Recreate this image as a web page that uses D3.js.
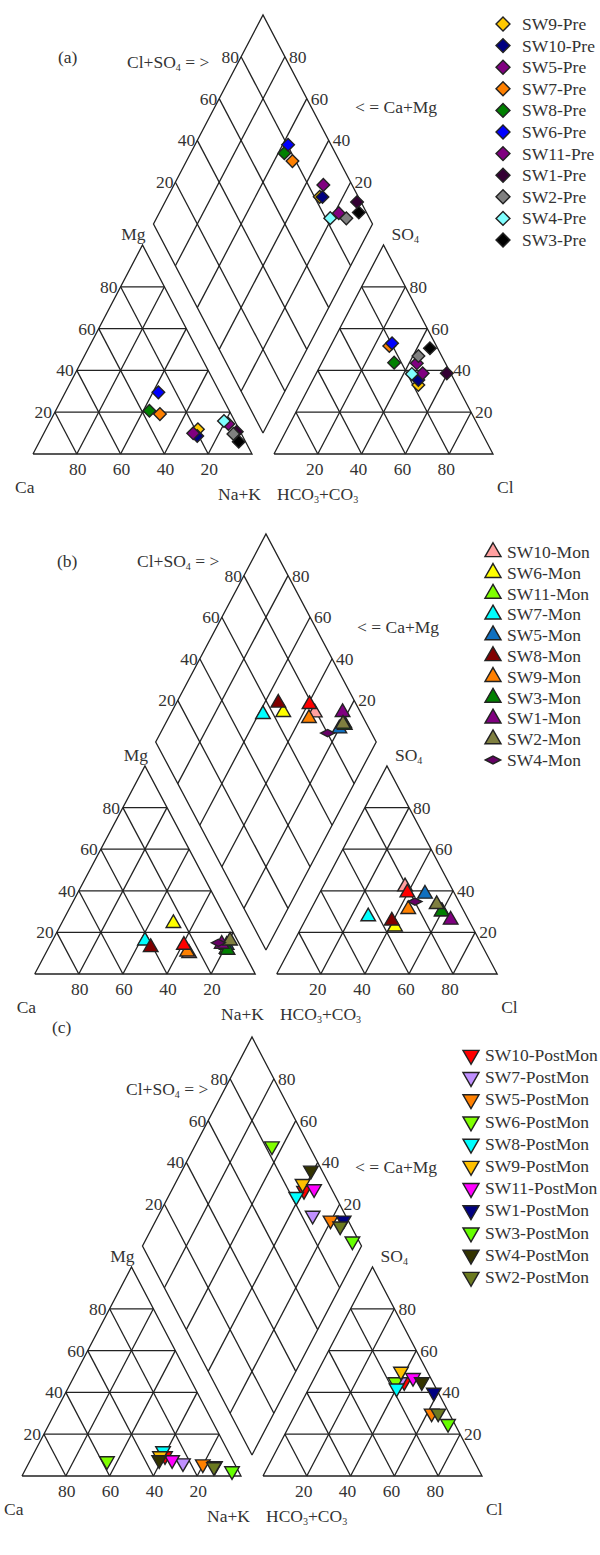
<!DOCTYPE html>
<html>
<head>
<meta charset="utf-8">
<script src="https://cdn.jsdelivr.net/npm/d3@7"></script>
<style>
  body { margin: 0; background: #fff; }
  svg text { font-family: "Liberation Serif", "Times New Roman", serif; fill: #333; font-size: 17.5px; }
</style>
</head>
<body>
<svg id="chart" width="600" height="1555"></svg>
<script>
// ---- data: percent of meq ----
const ticks = [20, 40, 60, 80];

// (a) pre-monsoon
const preNames  = ['SW9-Pre', 'SW10-Pre', 'SW5-Pre', 'SW7-Pre', 'SW8-Pre', 'SW6-Pre', 'SW11-Pre', 'SW1-Pre', 'SW2-Pre', 'SW4-Pre', 'SW3-Pre'];
const preColors = ['#FFC800', '#000080', '#800080', '#FF8000', '#008000', '#0000FF', '#800080', '#330033', '#808080', '#80FFFF', '#000000'];
const preMg  = [11.8, 8.6, 9.9, 19.1, 20.7, 29.5, 14.4, 10.7, 9.6, 15.8, 5.9];
const preNaK = [69.4, 70.7, 68.2, 48.4, 42.8, 42.5, 82.0, 87.7, 86.7, 79.3, 91.0];
const preSO4 = [33.0, 35.4, 43.4, 51.7, 43.7, 53.0, 38.6, 38.6, 46.9, 38.3, 50.6];
const preCl  = [49.4, 48.2, 43.5, 26.8, 33.0, 27.4, 48.6, 59.6, 42.5, 43.8, 45.9];

// (b) monsoon (last one is the red point that has no legend entry)
const monNames  = ['SW10-Mon', 'SW6-Mon', 'SW11-Mon', 'SW7-Mon', 'SW5-Mon', 'SW8-Mon', 'SW9-Mon', 'SW3-Mon', 'SW1-Mon', 'SW2-Mon', 'SW4-Mon', ''];
const monColors = ['#FFA0A0', '#FFFF00', '#80FF00', '#00FFFF', '#1070C0', '#800000', '#FF8000', '#008000', '#800080', '#7F7F40', '#660066', '#FF0000'];
const monMg  = [9.9, 24.4, 12.0, 16.0, 13.9, 12.8, 10.7, 11.5, 14.4, 16.0, 15.0, 13.9];
const monNaK = [65.1, 50.7, 81.0, 42.0, 80.1, 46.2, 63.8, 81.7, 77.6, 80.6, 75.8, 60.7];
const monSO4 = [42.0, 22.7, 30.0, 27.6, 38.5, 25.6, 31.1, 30.0, 26.0, 33.5, 34.8, 39.1];
const monCl  = [37.2, 42.3, 60.0, 27.7, 48.0, 39.4, 44.1, 59.8, 65.9, 55.8, 45.3, 39.7];

// (c) post-monsoon
const postNames  = ['SW10-PostMon', 'SW7-PostMon', 'SW5-PostMon', 'SW6-PostMon', 'SW8-PostMon', 'SW9-PostMon', 'SW11-PostMon', 'SW1-PostMon', 'SW3-PostMon', 'SW4-PostMon', 'SW2-PostMon'];
const postColors = ['#FF0000', '#C090FF', '#FF8000', '#80FF00', '#00FFFF', '#FFC000', '#FF00FF', '#000080', '#66FF00', '#333300', '#6B7A20'];
const postMg  = [9.6, 6.2, 5.7, 7.2, 12.0, 9.6, 7.7, 4.8, 2.4, 7.7, 4.3];
const postNaK = [60.5, 70.4, 79.7, 35.2, 58.4, 58.2, 64.7, 85.7, 94.7, 58.8, 85.5];
const postSO4 = [45.0, 45.0, 30.0, 45.0, 42.0, 50.0, 47.0, 40.0, 25.0, 45.0, 30.0];
const postCl  = [42.0, 40.0, 62.0, 38.0, 40.0, 38.0, 45.0, 58.0, 72.0, 50.0, 65.0];

const svg = d3.select('#chart');

function addSub(text, parts) {
  parts.forEach(([str, sub]) => {
    const t = text.append('tspan').text(str);
    if (sub) t.attr('font-size', 10).attr('dy', 3);
    else if (sub === false) t.attr('dy', -3);
  });
}

function markerPath(shape) {
  if (shape === 'diamond') return d3.symbol().type(d3.symbolSquare).size(80)();
  if (shape === 'flat') return 'M-7,0L0,-3.6L7,0L0,3.6Z';
  return d3.symbol().type(d3.symbolTriangle).size(92)();
}
function markerRot(shape) {
  if (shape === 'diamond') return 45;
  if (shape === 'down') return 180;
  return 0;
}

function drawPanel(cfg, names, colors, mg, nak, so4, cl, shapes) {
  const g = svg.append('g');
  const gp = cfg.g / cfg.s * 100;
  const dp = cfg.dOff / cfg.h * 100;
  const x = d3.scaleLinear().domain([0, 100]).range([cfg.x0, cfg.x0 + cfg.s]);
  const y = d3.scaleLinear().domain([0, 100]).range([cfg.base, cfg.base - cfg.h]);
  const L = (m, n) => [x(n + m / 2), y(m)];
  const R = (s4, c) => [x(100 + gp + c + s4 / 2), y(s4)];
  const D = (b, c) => [x(100 + gp / 2 + (b - c) / 2), y(dp + b + c)];
  const line = d3.line();
  const stroke = (sel) => sel.attr('fill', 'none').attr('stroke', '#222').attr('stroke-width', 1.3);

  const outlines = [
    [L(0, 0), L(0, 100), L(100, 0), L(0, 0)],
    [R(0, 0), R(0, 100), R(100, 0), R(0, 0)],
    [D(0, 0), D(100, 0), D(100, 100), D(0, 100), D(0, 0)]
  ];
  const grid = [];
  ticks.forEach((k) => {
    grid.push([L(k, 0), L(k, 100 - k)]);
    grid.push([L(0, k), L(100 - k, k)]);
    grid.push([L(0, 100 - k), L(100 - k, 0)]);
    grid.push([R(k, 0), R(k, 100 - k)]);
    grid.push([R(0, k), R(100 - k, k)]);
    grid.push([R(0, 100 - k), R(100 - k, 0)]);
    grid.push([D(k, 0), D(k, 100)]);
    grid.push([D(0, k), D(100, k)]);
  });
  outlines.concat(grid).forEach((pts) => g.append('path').attr('d', line(pts)).call(stroke));

  ticks.forEach((k) => {
    let p = L(k, 0);
    g.append('text').attr('x', p[0] - 3).attr('y', p[1] + 6).attr('text-anchor', 'end').text(k);
    p = L(0, 100 - k);
    g.append('text').attr('x', p[0] + 1).attr('y', p[1] + 21).attr('text-anchor', 'middle').text(k);
    p = R(k, 100 - k);
    g.append('text').attr('x', p[0] + 4).attr('y', p[1] + 6).text(k);
    p = R(0, k);
    g.append('text').attr('x', p[0] - 3).attr('y', p[1] + 21).attr('text-anchor', 'middle').text(k);
    p = D(k, 100);
    g.append('text').attr('x', p[0] - 2).attr('y', p[1] + 6).attr('text-anchor', 'end').text(k);
    p = D(100, k);
    g.append('text').attr('x', p[0] + 4).attr('y', p[1] + 6).text(k);
  });

  const apexL = L(100, 0), apexR = R(100, 0), bot = D(0, 0);
  g.append('text').attr('x', apexL[0] + 3).attr('y', apexL[1] - 5).attr('text-anchor', 'end').text('Mg');
  const so = g.append('text').attr('x', apexR[0] + 8).attr('y', apexR[1] - 5);
  addSub(so, [['SO', null], ['4', true]]);
  g.append('text').attr('x', cfg.x0 - 18).attr('y', cfg.base + 39).text('Ca');
  g.append('text').attr('x', R(0, 100)[0] + 4).attr('y', cfg.base + 39).text('Cl');
  g.append('text').attr('x', bot[0] - 2).attr('y', cfg.base + 46).attr('text-anchor', 'end').text('Na+K');
  const hc = g.append('text').attr('x', bot[0] + 14).attr('y', cfg.base + 46);
  addSub(hc, [['HCO', null], ['3', true], ['+CO', false], ['3', true]]);

  g.append('text').attr('x', cfg.tag[0]).attr('y', cfg.tag[1]).text(cfg.label);
  const cs = g.append('text').attr('x', cfg.clso4[0]).attr('y', cfg.clso4[1]);
  addSub(cs, [['Cl+SO', null], ['4', true], [' = >', false]]);
  g.append('text').attr('x', cfg.camg[0]).attr('y', cfg.camg[1]).text('< = Ca+Mg');

  names.forEach((name, i) => {
    const b = cl[i] + so4[i];
    const c = 100 - nak[i];
    const shape = shapes[i];
    [L(mg[i], nak[i]), R(so4[i], cl[i]), D(b, c)].forEach((p) => {
      g.append('path')
        .attr('d', markerPath(shape))
        .attr('transform', `translate(${p[0]},${p[1]}) rotate(${markerRot(shape)})`)
        .attr('fill', colors[i])
        .attr('stroke', '#222')
        .attr('stroke-width', 1.4);
    });
  });

  let row = 0;
  names.forEach((name, i) => {
    if (!name) return;
    const ly = cfg.leg.y + row * cfg.leg.dy;
    const shape = shapes[i];
    g.append('path')
      .attr('d', markerPath(shape))
      .attr('transform', `translate(${cfg.leg.x},${ly}) rotate(${markerRot(shape)}) scale(1.1)`)
      .attr('fill', colors[i])
      .attr('stroke', '#222')
      .attr('stroke-width', 1.3);
    g.append('text').attr('x', cfg.leg.tx).attr('y', ly + 6)
      .attr('font-size', cfg.leg.fs).text(name);
    row++;
  });
}

drawPanel(
  { x0: 33, s: 219, g: 22, base: 454, h: 209, dOff: 21, label: '(a)',
    tag: [58, 63], clso4: [127, 68], camg: [355, 113],
    leg: { x: 503, tx: 522, y: 24, dy: 21.6, fs: 17.8 } },
  preNames, preColors, preMg, preNaK, preSO4, preCl, preNames.map(() => 'diamond')
);

drawPanel(
  { x0: 34.7, s: 220.5, g: 21.5, base: 974, h: 208, dOff: 24, label: '(b)',
    tag: [57, 567], clso4: [137, 567], camg: [357, 633],
    leg: { x: 493, tx: 507, y: 552, dy: 20.8, fs: 18 } },
  monNames, monColors, monMg, monNaK, monSO4, monCl,
  monNames.map((n) => (n === 'SW4-Mon' ? 'flat' : 'up'))
);

drawPanel(
  { x0: 22, s: 219, g: 22, base: 1476, h: 209, dOff: 21, label: '(c)',
    tag: [52, 1033], clso4: [126, 1095], camg: [355, 1173],
    leg: { x: 471, tx: 485, y: 1055, dy: 22.2, fs: 18.2 } },
  postNames, postColors, postMg, postNaK, postSO4, postCl, postNames.map(() => 'down')
);
</script>
</body>
</html>
